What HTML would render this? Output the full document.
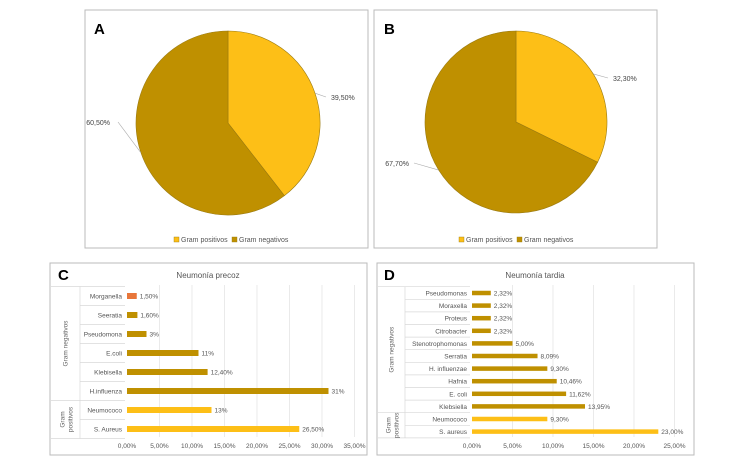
<!DOCTYPE html>
<html><head><meta charset="utf-8"><style>
body{margin:0;background:#fff;width:750px;height:469px;overflow:hidden;font-family:"Liberation Sans",sans-serif}
svg text{font-family:"Liberation Sans",sans-serif}
</style></head><body>
<svg id="s" width="750" height="469" xmlns="http://www.w3.org/2000/svg">
<rect x="85" y="10" width="283" height="238" fill="#fff" stroke="#bbb"/>
<rect x="374" y="10" width="283" height="238" fill="#fff" stroke="#bbb"/>
<rect x="50" y="263" width="317" height="192" fill="#fff" stroke="#bbb"/>
<rect x="377" y="263" width="317" height="192" fill="#fff" stroke="#bbb"/>
<text x="94" y="34" font-size="15" font-weight="bold">A</text>
<text x="384" y="34" font-size="15" font-weight="bold">B</text>
<text x="58" y="280" font-size="15" font-weight="bold">C</text>
<text x="384" y="280" font-size="15" font-weight="bold">D</text>
<text x="208" y="278" font-size="8" fill="#555" text-anchor="middle">Neumonía precoz</text>
<text x="535" y="278" font-size="8" fill="#555" text-anchor="middle">Neumonía tardia</text>
</svg>
<script>
const NS="http://www.w3.org/2000/svg";
const svg=document.getElementById('s');
const YEL="#FDBF17",DARK="#BF9000",ORG="#E8763A";
function mk(t,a,p){const e=document.createElementNS(NS,t);for(const k in a)e.setAttribute(k,a[k]);(p||svg).appendChild(e);return e;}

// Pie data
const pieLabels=["Gram positivos","Gram negativos"];
const pieA=[39.5,60.5];
const pieB=[32.3,67.7];
const pieAText=["39,50%","60,50%"];
const pieBText=["32,30%","67,70%"];

function pie(cx,cy,r,vals,texts,labPos,legX,tag){
  const tot=vals[0]+vals[1];let a0=-Math.PI/2;
  vals.forEach((v,i)=>{
    const a1=a0+v/tot*2*Math.PI;
    const x0=cx+r*Math.cos(a0),y0=cy+r*Math.sin(a0),x1=cx+r*Math.cos(a1),y1=cy+r*Math.sin(a1);
    const large=(a1-a0)>Math.PI?1:0;
    const p=mk('path',{d:`M${cx},${cy}L${x0},${y0}A${r},${r} 0 ${large} 1 ${x1},${y1}Z`,fill:i==0?YEL:DARK,stroke:"#9a7a10","stroke-width":0.6});
    
    
    const am=(a0+a1)/2;
    const ex=cx+r*Math.cos(am),ey=cy+r*Math.sin(am);
    const lp=labPos[i];
    mk('polyline',{points:`${ex},${ey} ${lp[2]},${lp[1]-3}`,fill:"none",stroke:"#aaa","stroke-width":0.6});
    const t=mk('text',{x:lp[0],y:lp[1],"font-size":7,fill:"#444","text-anchor":i==0?"start":"end"});t.textContent=texts[i];
    
    
    a0=a1;
  });
  pieLabels.forEach((l,i)=>{
    const x=legX+i*58;
    mk('rect',{x:x,y:237,width:5,height:5,fill:i==0?YEL:DARK,stroke:"#9a7a10","stroke-width":0.4});
    const t=mk('text',{x:x+7,y:242,"font-size":7,fill:"#555"});t.textContent=l;
    
    
  });
}
pie(228,123,92,pieA,pieAText,[[331,100,326],[110,125,118]],174,'pie-a');
pie(516,122,91,pieB,pieBText,[[613,81,608],[409,166,414]],459,'pie-b');

// Bar chart C
const catC=["Morganella","Seeratia","Pseudomona","E.coli","Klebisella","H.influenza","Neumococo","S. Aureus"];
const valC=[1.5,1.6,3,11,12.4,31,13,26.5];
const txtC=["1,50%","1,60%","3%","11%","12,40%","31%","13%","26,50%"];
const ticksC=[0,5,10,15,20,25,30,35];
const tickTxtC=["0,00%","5,00%","10,00%","15,00%","20,00%","25,00%","30,00%","35,00%"];
// Bar chart D
const catD=["Pseudomonas","Moraxella","Proteus","Citrobacter","Stenotrophomonas","Serratia","H. influenzae","Hafnia","E. coli","Klebsiella","Neumococo","S. aureus"];
const valD=[2.32,2.32,2.32,2.32,5,8.09,9.3,10.46,11.62,13.95,9.3,23];
const txtD=["2,32%","2,32%","2,32%","2,32%","5,00%","8,09%","9,30%","10,46%","11,62%","13,95%","9,30%","23,00%"];
const ticksD=[0,5,10,15,20,25];
const tickTxtD=["0,00%","5,00%","10,00%","15,00%","20,00%","25,00%"];

function bars(o){
  const X=v=>o.x0+v*o.k;
  const n=o.cats.length;const Y=i=>o.y0+i*o.step;
  o.ticks.forEach((t,i)=>{
    if(i>0)mk('line',{x1:X(t),x2:X(t),y1:o.top,y2:o.bot,stroke:"#e2e2e2","stroke-width":0.7});
    const tx=mk('text',{x:X(t),y:o.bot+11,"font-size":6.5,fill:"#555","text-anchor":"middle"});tx.textContent=o.tickTxt[i];
    
    
  });
  // table lines
  for(let i=0;i<=n;i++){
    const y=Y(i)-o.step/2;
    const x1=(i==0||i==n||i==o.split)?o.gx:o.lx;
    mk('line',{x1:x1,x2:o.x0-2,y1:y,y2:y,stroke:"#d8d8d8","stroke-width":0.7});
  }
  mk('line',{x1:o.lx,x2:o.lx,y1:Y(0)-o.step/2,y2:Y(n)-o.step/2,stroke:"#d8d8d8","stroke-width":0.7});
  o.cats.forEach((c,i)=>{
    const t=mk('text',{x:o.x0-5,y:Y(i)+2.5,"font-size":6.5,fill:"#555","text-anchor":"end"});t.textContent=c;
    
    
    const col=o.colorFn(i);
    const r=mk('rect',{x:X(0),y:Y(i)-o.bh/2,width:X(o.vals[i])-X(0),height:o.bh,fill:col});
    
    
    const v=mk('text',{x:X(o.vals[i])+3,y:Y(i)+2.5,"font-size":6.5,fill:"#555"});v.textContent=o.txt[i];
    
    
  });
  const gy1=(Y(0)-o.step/2+Y(o.split)-o.step/2)/2, gy2=(Y(o.split)-o.step/2+Y(n)-o.step/2)/2;
  const gx=(o.gx+o.lx)/2;
  const g1=mk('text',{x:gx+2,y:gy1,"font-size":6.5,fill:"#666","text-anchor":"middle",transform:`rotate(-90 ${gx+2} ${gy1})`});g1.textContent="Gram negativos";
  
  
  const g2=mk('text',{x:gx,y:gy2,"font-size":6.5,fill:"#666","text-anchor":"middle",transform:`rotate(-90 ${gx} ${gy2})`});
  const s1=mk('tspan',{x:gx,dy:-1});s1.textContent="Gram";g2.appendChild(s1);
  const s2=mk('tspan',{x:gx,dy:8});s2.textContent="positivos";g2.appendChild(s2);
  
  
}
bars({tag:'chart-c',cats:catC,vals:valC,txt:txtC,ticks:ticksC,tickTxt:tickTxtC,x0:127,k:6.5,y0:296,step:19,bh:6,top:285,bot:437,gx:51,lx:80,split:6,
  colorFn:i=>i==0?ORG:(i>=6?YEL:DARK)});
bars({tag:'chart-d',cats:catD,vals:valD,txt:txtD,ticks:ticksD,tickTxt:tickTxtD,x0:472,k:8.1,y0:293,step:12.6,bh:4.5,top:285,bot:437,gx:378,lx:405,split:10,
  colorFn:i=>i>=10?YEL:DARK});
</script>
</body></html>
